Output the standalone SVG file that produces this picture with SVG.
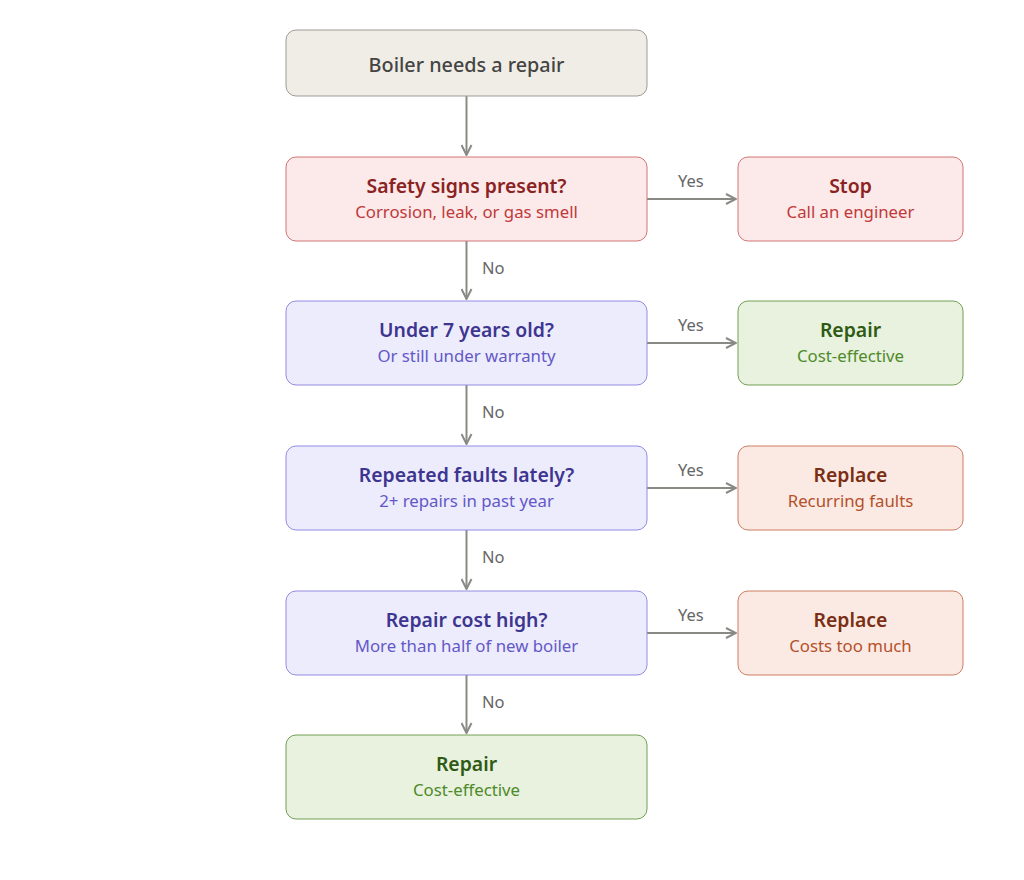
<svg xmlns="http://www.w3.org/2000/svg" width="1024" height="880" viewBox="0 0 1024 880">
<style>
text{font-family:"Noto Sans","Open Sans","Liberation Sans",sans-serif;text-anchor:middle}
.t{font-size:19.4px;font-weight:600}
.s{font-size:16.8px}
.lbl{font-size:16.5px;fill:#666;text-anchor:start}
.conn{stroke:#8a8a85;stroke-width:2;fill:none}
.start rect{fill:#f0ede6;stroke:#9d9b96}
.red rect{fill:#fce9e9;stroke:#d27474}
.red .t{fill:#8b2222}.red .s{fill:#c0393b}
.pur rect{fill:#ececfc;stroke:#948ae2}
.pur .t{fill:#3d3590}.pur .s{fill:#6458c8}
.grn rect{fill:#e8f2de;stroke:#72a055}
.grn .t{fill:#2f5a14}.grn .s{fill:#4f8a2a}
.org rect{fill:#fbeae3;stroke:#cf7d60}
.org .t{fill:#7a2e14}.org .s{fill:#b4502a}
</style>
<defs>
<marker id="a" viewBox="0 0 12 12" refX="11" refY="6" markerWidth="12" markerHeight="12" markerUnits="userSpaceOnUse" orient="auto">
<path d="M1,1 L11,6 L1,11" fill="none" stroke="#8a8a85" stroke-width="2"/>
</marker>
</defs>
<rect width="1024" height="880" fill="#fff"/>
<g id="connectors">
<path class="conn" d="M466.5,96 V155" marker-end="url(#a)"/>
<path class="conn" d="M466.5,241 V299" marker-end="url(#a)"/>
<path class="conn" d="M466.5,385 V444" marker-end="url(#a)"/>
<path class="conn" d="M466.5,530 V589" marker-end="url(#a)"/>
<path class="conn" d="M466.5,675 V733" marker-end="url(#a)"/>
<path class="conn" d="M647,199 H736" marker-end="url(#a)"/>
<path class="conn" d="M647,343 H736" marker-end="url(#a)"/>
<path class="conn" d="M647,488 H736" marker-end="url(#a)"/>
<path class="conn" d="M647,633 H736" marker-end="url(#a)"/>
<text class="lbl" x="678" y="187">Yes</text>
<text class="lbl" x="678" y="331">Yes</text>
<text class="lbl" x="678" y="476">Yes</text>
<text class="lbl" x="678" y="621">Yes</text>
<text class="lbl" x="482" y="274">No</text>
<text class="lbl" x="482" y="418">No</text>
<text class="lbl" x="482" y="563">No</text>
<text class="lbl" x="482" y="708">No</text>
</g>
<g id="start" class="start"><rect x="286" y="30" width="361" height="66" rx="10"/><text class="t" x="466.5" y="72" fill="#444" style="font-weight:500;font-size:19.8px">Boiler needs a repair</text></g>
<g id="safety" class="red"><rect x="286" y="157" width="361" height="84" rx="10"/><text class="t" x="466.5" y="193">Safety signs present?</text><text class="s" x="466.5" y="218">Corrosion, leak, or gas smell</text></g>
<g id="stop" class="red"><rect x="738" y="157" width="225" height="84" rx="10"/><text class="t" x="850.5" y="193">Stop</text><text class="s" x="850.5" y="218">Call an engineer</text></g>
<g id="age" class="pur"><rect x="286" y="301" width="361" height="84" rx="10"/><text class="t" x="466.5" y="337">Under 7 years old?</text><text class="s" x="466.5" y="362">Or still under warranty</text></g>
<g id="repair1" class="grn"><rect x="738" y="301" width="225" height="84" rx="10"/><text class="t" x="850.5" y="337">Repair</text><text class="s" x="850.5" y="362">Cost-effective</text></g>
<g id="faults" class="pur"><rect x="286" y="446" width="361" height="84" rx="10"/><text class="t" x="466.5" y="482">Repeated faults lately?</text><text class="s" x="466.5" y="507">2+ repairs in past year</text></g>
<g id="replace1" class="org"><rect x="738" y="446" width="225" height="84" rx="10"/><text class="t" x="850.5" y="482">Replace</text><text class="s" x="850.5" y="507">Recurring faults</text></g>
<g id="cost" class="pur"><rect x="286" y="591" width="361" height="84" rx="10"/><text class="t" x="466.5" y="627">Repair cost high?</text><text class="s" x="466.5" y="652">More than half of new boiler</text></g>
<g id="replace2" class="org"><rect x="738" y="591" width="225" height="84" rx="10"/><text class="t" x="850.5" y="627">Replace</text><text class="s" x="850.5" y="652">Costs too much</text></g>
<g id="repair2" class="grn"><rect x="286" y="735" width="361" height="84" rx="10"/><text class="t" x="466.5" y="771">Repair</text><text class="s" x="466.5" y="796">Cost-effective</text></g>
</svg>
